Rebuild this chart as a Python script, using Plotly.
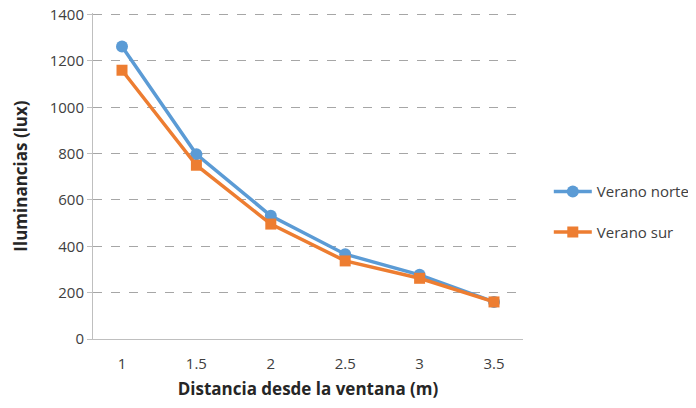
import plotly.graph_objects as go

distancias = ["1", "1.5", "2", "2.5", "3", "3.5"]
verano_norte = [1262, 797, 532, 366, 277, 160]
verano_sur = [1160, 750, 496, 337, 262, 160]
y_ticks = [0, 200, 400, 600, 800, 1000, 1200, 1400]

fig = go.Figure()
fig.add_trace(go.Scatter(x=distancias, y=verano_norte, name="Verano norte",
                         mode="lines+markers", legendgroup="n",
                         line=dict(color="#5B9BD5", width=3.5),
                         marker=dict(symbol="circle", size=12, color="#5B9BD5")))
fig.add_trace(go.Scatter(x=distancias, y=verano_sur, name="Verano sur",
                         mode="lines+markers", legendgroup="s",
                         line=dict(color="#ED7D31", width=3.5),
                         marker=dict(symbol="square", size=11, color="#ED7D31")))

# page body has an 8px margin, so the figure is sized/offset accordingly
fig.update_layout(
    width=680, height=392,
    margin=dict(l=85, r=165, t=5, b=61, autoexpand=False),
    paper_bgcolor="white", plot_bgcolor="white",
    font=dict(family="Open Sans, sans-serif", size=15, color="#404040"),
    showlegend=True,
    legend=dict(x=1.06, y=0.39, xanchor="left", yanchor="middle",
                font=dict(size=15, color="#404040"), tracegroupgap=18,
                itemwidth=38),
    xaxis=dict(type="category", showgrid=False, showline=True, linecolor="#BFBFBF",
               linewidth=1, ticks="", tickfont=dict(size=15, color="#404040"),
               automargin=False, ticklabelstandoff=11,
               title=dict(text="<b>Distancia desde la ventana (m)</b>",
                          font=dict(size=17, color="#262626"), standoff=14)),
    yaxis=dict(range=[0, 1407], tickvals=y_ticks, showgrid=True,
               gridcolor="#A6A6A6", griddash="dash", gridwidth=1,
               showline=True, linecolor="#BFBFBF", linewidth=1,
               ticks="outside", ticklen=5, tickcolor="#BFBFBF",
               tickfont=dict(size=15, color="#404040"), zeroline=False,
               automargin=False, ticklabeloverflow="allow",
               title=dict(text="<b>Iluminancias (lux)</b>",
                          font=dict(size=17, color="#262626"), standoff=17)),
)

fig.write_html("out.html")
